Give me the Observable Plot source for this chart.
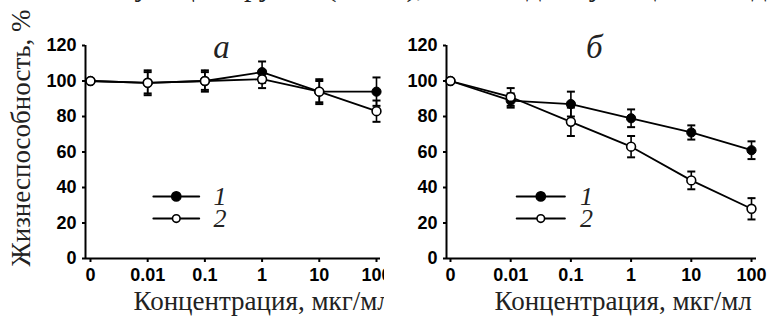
<!DOCTYPE html>
<html>
<head>
<meta charset="utf-8">
<script src="https://cdn.jsdelivr.net/npm/d3@7"></script>
<script src="https://cdn.jsdelivr.net/npm/@observablehq/plot@0.6"></script>
<style>
  html, body { margin: 0; padding: 0; background: #fff; }
  #wrap { position: relative; width: 768px; height: 321px; overflow: hidden; background: #fff; }
  #wrap > .panel { position: absolute; top: 0; }
  #toptext { position: absolute; left: -2px; top: -31px; white-space: nowrap; font-family: "Liberation Serif", "Times New Roman", serif; font-size: 30px; color: #222; z-index: 2; }
</style>
</head>
<body>
<div id="wrap">
  <div id="toptext">соответствующей группе (100%), не обладает у пациентов доброкачественного</div>
  <div class="panel" id="pa" style="left:0"></div>
  <div class="panel" id="pb" style="left:384px"></div>
</div>
<script>
// ---- data ----
const concentrations = ["0", "0.01", "0.1", "1", "10", "100"];
const yTicks = [0, 20, 40, 60, 80, 100, 120];
const panelTitles = ["а", "б"];
const xLabel = "Концентрация, мкг/мл";
const yLabel = "Жизнеспособность, %";
const legendLabels = ["1", "2"];

// panel а
const aSeries1 = [100, 99, 100, 105, 94, 94];
const aErr1    = [0, 7, 6, 6, 7, 8];
const aSeries2 = [100, 99, 100, 101, 94, 83];
const aErr2    = [0, 6, 5, 5, 6, 6];
// panel б
const bSeries1 = [100, 89, 87, 79, 71, 61];
const bErr1    = [0, 4, 7, 5, 4, 5];
const bSeries2 = [100, 91, 77, 63, 44, 28];
const bErr2    = [0, 5, 8, 6, 5, 6];

const serif = "Liberation Serif, Times New Roman, serif";
const sans = "Liberation Sans, Arial, sans-serif";

const capSymbol = {
  draw(ctx, size) {
    const r = Math.sqrt(size / Math.PI);
    ctx.moveTo(-r, 0);
    ctx.lineTo(r, 0);
  }
};

function panel({title, s1, e1, s2, e2, marginLeft, marginRight, xDomain, titleX, showYLabel}) {
  const rows = (vals, errs, series) => vals.map((v, i) => ({i, v, e: errs[i], series}));
  const d1 = rows(s1, e1, 1), d2 = rows(s2, e2, 2);
  const all = d1.concat(d2);
  const withErr = all.filter(d => d.e > 0);
  const caps = withErr.flatMap(d => [{i: d.i, y: d.v + d.e}, {i: d.i, y: d.v - d.e}]);
  const idx = concentrations.map((_, i) => i);

  // legend (frame-relative placement in data units)
  const legY = [35, 22.5];
  const legend = legendLabels.map((lab, k) => ({lab, y: legY[k], filled: k === 0}));
  const legLines = legend.flatMap(l => [{i: 1.1, y: l.y, lab: l.lab}, {i: 1.9, y: l.y, lab: l.lab}]);

  const marks = [
    Plot.axisX({ticks: idx, tickFormat: i => concentrations[i], tickSize: 4, tickPadding: 6,
      fontSize: 18, fontWeight: "bold", fontFamily: sans, strokeWidth: 2, label: null}),
    Plot.axisY({ticks: yTicks, tickSize: 3, tickPadding: 6,
      fontSize: 18, fontWeight: "bold", fontFamily: sans, strokeWidth: 2, label: null}),
    Plot.ruleY([0], {strokeWidth: 2}),
    Plot.ruleX([xDomain[0]], {y1: 0, y2: 120, strokeWidth: 2}),
    Plot.line(d1, {x: "i", y: "v", stroke: "black", strokeWidth: 1.8}),
    Plot.line(d2, {x: "i", y: "v", stroke: "black", strokeWidth: 1.8}),
    Plot.ruleX(withErr, {x: "i", y1: d => d.v - d.e, y2: d => d.v + d.e, stroke: "black", strokeWidth: 1.6}),
    Plot.dot(caps, {x: "i", y: "y", symbol: capSymbol, r: 4, stroke: "black", strokeWidth: 2}),
    Plot.dot(d1, {x: "i", y: "v", r: 4.6, fill: "black", stroke: "black", strokeWidth: 1}),
    Plot.dot(d2, {x: "i", y: "v", r: 4.4, fill: "white", stroke: "black", strokeWidth: 1.6}),
    // legend
    Plot.line(legLines, {x: "i", y: "y", z: "lab", stroke: "black", strokeWidth: 2}),
    Plot.dot(legend.filter(l => l.filled), {x: 1.5, y: "y", r: 4.6, fill: "black", stroke: "black"}),
    Plot.dot(legend.filter(l => !l.filled), {x: 1.5, y: "y", r: 3.8, fill: "white", stroke: "black", strokeWidth: 1.6}),
    Plot.text(legend, {x: 2.15, y: "y", text: "lab", textAnchor: "start", lineAnchor: "middle",
      fontSize: 26, fontStyle: "italic", fontFamily: serif, fill: "#222"}),
    // panel title
    Plot.text([title], {x: titleX, y: 119, fontSize: 33, fontStyle: "italic", fontFamily: serif, fill: "#222", lineAnchor: "middle"}),
    // x title
    Plot.text([xLabel], {frameAnchor: "bottom-left", dx: 48, dy: 43, textAnchor: "start", lineAnchor: "middle",
      fontSize: 27, fontFamily: serif, fill: "#222"})
  ];
  if (showYLabel) {
    marks.push(Plot.text([yLabel], {frameAnchor: "left", rotate: -90, dx: -64, dy: -14, textAnchor: "middle",
      lineAnchor: "middle", fontSize: 27, fontFamily: serif, fill: "#222"}));
  }
  return Plot.plot({
    width: 384, height: 321,
    marginLeft, marginRight, marginTop: 45, marginBottom: 63,
    style: {background: "transparent", overflow: "hidden", color: "black"},
    x: {type: "linear", domain: xDomain},
    y: {domain: [0, 120]},
    marks
  });
}

document.getElementById("pa").appendChild(panel({
  title: panelTitles[0], s1: aSeries1, e1: aErr1, s2: aSeries2, e2: aErr2,
  marginLeft: 85, marginRight: 4, xDomain: [-0.087, 5.07], titleX: 2.29, showYLabel: true
}));
document.getElementById("pb").appendChild(panel({
  title: panelTitles[1], s1: bSeries1, e1: bErr1, s2: bSeries2, e2: bErr2,
  marginLeft: 62, marginRight: 12, xDomain: [-0.066, 5.083], titleX: 2.39, showYLabel: false
}));
</script>
</body>
</html>
